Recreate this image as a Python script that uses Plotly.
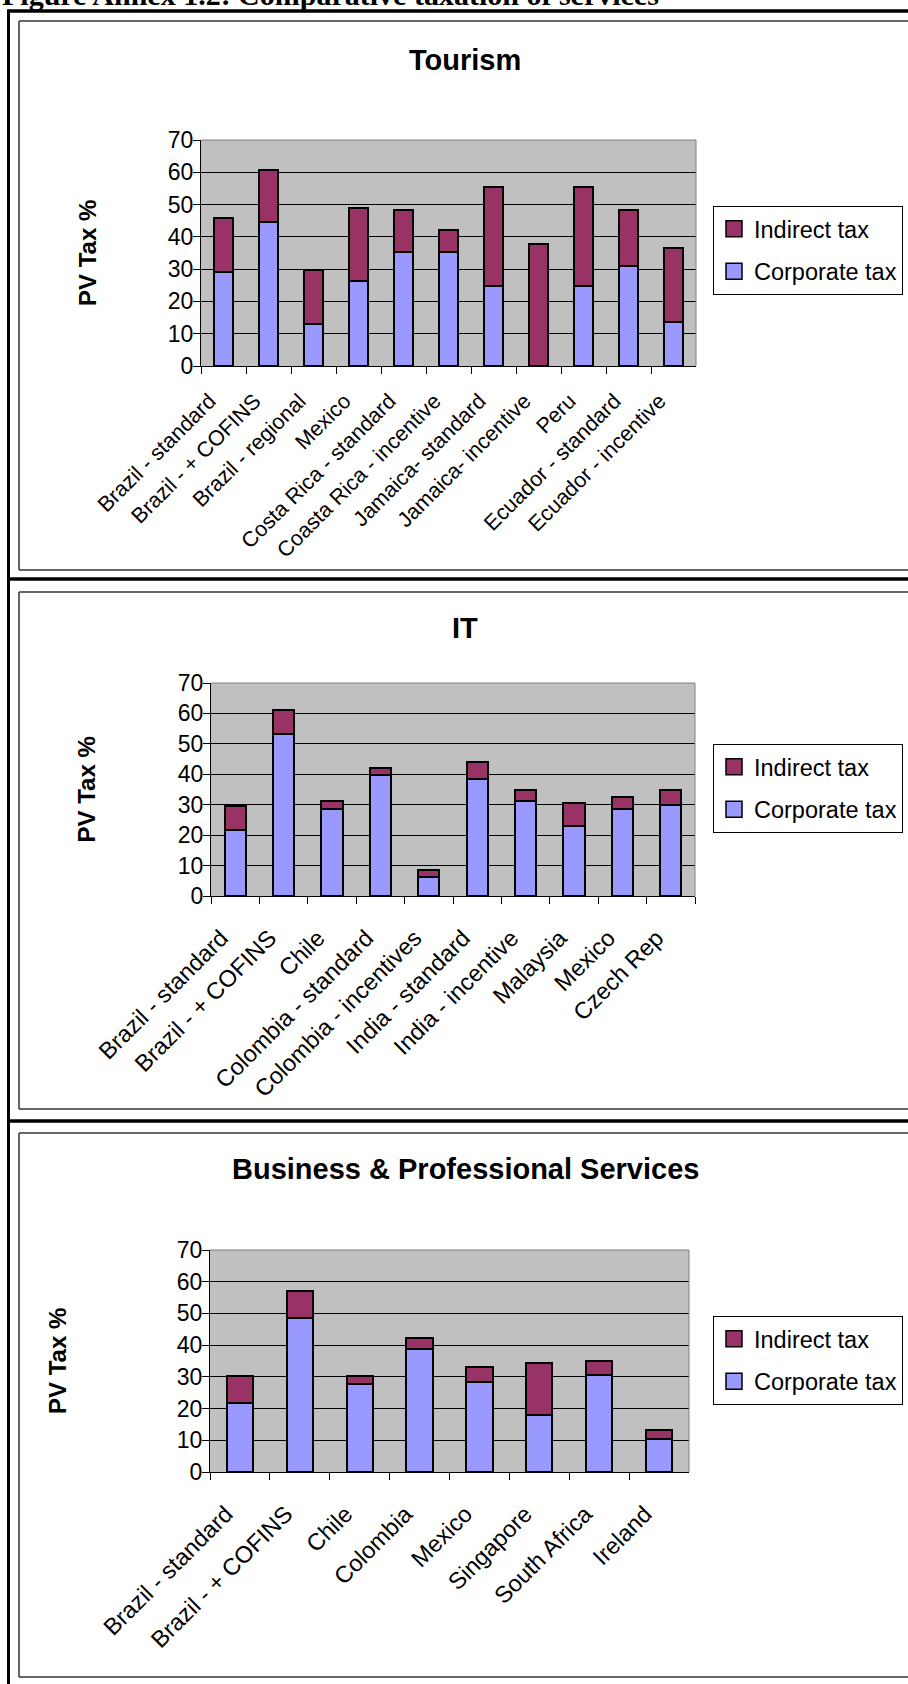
import plotly.graph_objects as go

# ---------------------------------------------------------------- data
tourism_labels = ["Brazil - standard", "Brazil - + COFINS", "Brazil - regional", "Mexico",
                  "Costa Rica - standard", "Coasta Rica - incentive", "Jamaica- standard",
                  "Jamaica- incentive", "Peru", "Ecuador - standard", "Ecuador - incentive"]
tourism_corporate = [29.0, 44.5, 12.9, 26.4, 35.2, 35.2, 24.8, 0.0, 24.8, 31.0, 13.6]
tourism_indirect = [16.7, 16.1, 16.7, 22.4, 13.1, 6.9, 30.7, 37.7, 30.7, 17.3, 22.8]

it_labels = ["Brazil - standard", "Brazil - + COFINS", "Chile", "Colombia - standard",
             "Colombia - incentives", "India - standard", "India - incentive", "Malaysia",
             "Mexico", "Czech Rep"]
it_corporate = [21.7, 53.4, 28.7, 39.7, 6.3, 38.4, 31.1, 22.9, 28.5, 30.0]
it_indirect = [7.9, 7.8, 2.4, 2.3, 2.2, 5.8, 3.6, 7.7, 3.9, 4.9]

bps_labels = ["Brazil - standard", "Brazil - + COFINS", "Chile", "Colombia", "Mexico",
              "Singapore", "South Africa", "Ireland"]
bps_corporate = [21.8, 48.6, 27.9, 38.8, 28.4, 18.0, 30.7, 10.4]
bps_indirect = [8.4, 8.6, 2.3, 3.3, 4.8, 16.4, 4.3, 2.7]

series_names = ["Corporate tax", "Indirect tax"]
y_ticks = [0, 10, 20, 30, 40, 50, 60, 70]

# ---------------------------------------------------------------- styling
W, H = 908, 1684
CORP_COLOR = "#9999FF"
IND_COLOR = "#993366"
PLOT_BG = "#C0C0C0"
SANS = "Liberation Sans, Arial, sans-serif"
SERIF = "Liberation Serif, Times New Roman, serif"


def px(x):
    return x / W


def py(y):
    return 1 - y / H


panels = [
    dict(title="Tourism", labels=tourism_labels, corp=tourism_corporate, ind=tourism_indirect,
         box=(201, 696, 140, 366), title_y=60, ytitle_x=87, legend_top=206,
         label_size=21.5, label_standoff=13),
    dict(title="IT", labels=it_labels, corp=it_corporate, ind=it_indirect,
         box=(211, 695, 683, 896), title_y=628, ytitle_x=86, legend_top=744,
         label_size=23.5, label_standoff=18),
    dict(title="Business & Professional Services", labels=bps_labels, corp=bps_corporate,
         ind=bps_indirect, box=(210, 689, 1250, 1472), title_y=1169, ytitle_x=57,
         legend_top=1316, label_size=23.5, label_standoff=18),
]

fig = go.Figure()
annotations = []
shapes = []
layout = {}

for i, p in enumerate(panels, start=1):
    sfx = "" if i == 1 else str(i)
    xa, ya, leg = "x" + sfx, "y" + sfx, "legend" + sfx
    left, right, top, bottom = p["box"]

    # stacked bars: corporate at the bottom, indirect on top
    for vals, color in ((p["corp"], CORP_COLOR), (p["ind"], IND_COLOR)):
        fig.add_trace(go.Bar(
            x=p["labels"], y=vals, width=0.44, showlegend=False,
            marker=dict(color=color, line=dict(color="black", width=2)),
            xaxis=xa, yaxis=ya, hoverinfo="skip"))

    # legend entries with square swatches
    for name, color, rank in ((series_names[1], IND_COLOR, 1), (series_names[0], CORP_COLOR, 2)):
        fig.add_trace(go.Scatter(
            x=[None], y=[None], mode="markers", name=name,
            marker=dict(symbol="square", size=16, color=color,
                        line=dict(color="black", width=1.5)),
            xaxis=xa, yaxis=ya, legend=leg, legendgroup=f"{name}{i}",
            legendrank=rank, hoverinfo="skip"))

    layout["xaxis" + sfx] = dict(
        domain=[px(left), px(right)], anchor=ya, type="category",
        tickangle=-45, tickfont=dict(family=SANS, size=p["label_size"], color="black"),
        ticklabelstandoff=p["label_standoff"], ticklabelshift=-14,
        ticks="outside", tickson="boundaries", ticklen=7, tickcolor="black",
        showline=True, linecolor="black", linewidth=1, showgrid=False,
        automargin=False, fixedrange=True)
    layout["yaxis" + sfx] = dict(
        domain=[py(bottom), py(top)], anchor=xa, range=[0, 70],
        tickvals=y_ticks, ticks="outside", ticklen=7, tickcolor="black",
        ticklabelstandoff=-5,
        tickfont=dict(family=SANS, size=23, color="black"),
        showgrid=True, gridcolor="black", gridwidth=1, zeroline=False,
        showline=True, linecolor="black", linewidth=1,
        automargin=False, fixedrange=True)
    layout[leg] = dict(
        x=px(713), y=py(p["legend_top"]), xanchor="left", yanchor="top",
        bgcolor="white", bordercolor="black", borderwidth=1,
        font=dict(family=SANS, size=23.5, color="black"),
        traceorder="grouped", tracegroupgap=9, itemwidth=30)

    # chart title and value-axis title
    annotations.append(dict(
        text=f"<b>{p['title']}</b>", xref="paper", yref="paper",
        x=px(465), y=py(p["title_y"]), xanchor="center", yanchor="middle",
        showarrow=False, font=dict(family=SANS, size=29, color="black")))
    annotations.append(dict(
        text="<b>PV Tax %</b>", xref="paper", yref="paper", textangle=-90,
        x=px(p["ytitle_x"]), y=py((top + bottom) / 2), xanchor="center",
        yanchor="middle", showarrow=False,
        font=dict(family=SANS, size=24, color="black")))

    # grey plot-area border on the top and right sides
    shapes.append(dict(type="line", xref=xa + " domain", yref=ya + " domain",
                       x0=0, x1=1, y0=1, y1=1, line=dict(color="#808080", width=1)))
    shapes.append(dict(type="line", xref=xa + " domain", yref=ya + " domain",
                       x0=1, x1=1, y0=0, y1=1, line=dict(color="#808080", width=1)))

# inner frame of each chart (open towards the right edge)
for y0, y1 in [(21, 570), (592, 1109), (1133, 1677)]:
    for ya_ in (y0, y1):
        shapes.append(dict(type="line", xref="paper", yref="paper",
                           x0=px(19), x1=1, y0=py(ya_), y1=py(ya_),
                           line=dict(color="#333333", width=1.5)))
    shapes.append(dict(type="line", xref="paper", yref="paper",
                       x0=px(19), x1=px(19), y0=py(y0), y1=py(y1),
                       line=dict(color="#333333", width=1.5)))

# heavy outer frame and separators
shapes.append(dict(type="line", xref="paper", yref="paper", x0=px(8.5), x1=px(8.5),
                   y0=py(11), y1=0, line=dict(color="black", width=3)))
for yy in [11, 579, 1121]:
    shapes.append(dict(type="line", xref="paper", yref="paper", x0=px(7), x1=1,
                       y0=py(yy), y1=py(yy), line=dict(color="black", width=3.5)))

# figure caption above the frame
annotations.append(dict(
    text="<b>Figure Annex 1.2: Comparative taxation of services</b>",
    xref="paper", yref="paper", x=0, y=py(-5), xanchor="left", yanchor="middle",
    showarrow=False, font=dict(family=SERIF, size=30, color="black")))

fig.update_layout(
    width=W, height=H, margin=dict(l=0, r=0, t=0, b=0, autoexpand=False),
    paper_bgcolor="white", plot_bgcolor=PLOT_BG,
    barmode="stack", showlegend=True,
    annotations=annotations, shapes=shapes,
    **layout)

fig.write_html("out.html")
